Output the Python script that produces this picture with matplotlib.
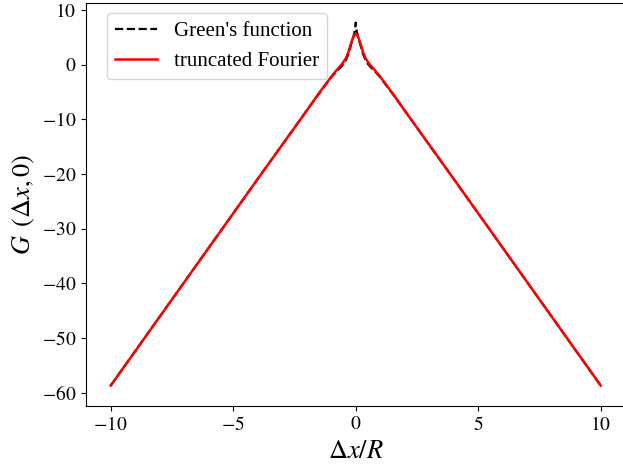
import numpy as np
import matplotlib.pyplot as plt

plt.rcParams['font.family'] = ['Liberation Serif', 'DejaVu Serif']
plt.rcParams['mathtext.fontset'] = 'stix'

# Green's function sampled along y = 0
x_green = [-10, -8, -6, -4, -2, -1.5, -1.0, -0.8, -0.6, -0.45, -0.3, -0.2, -0.1, -0.05, -0.02, 0,
           0.02, 0.05, 0.1, 0.2, 0.3, 0.45, 0.6, 0.8, 1.0, 1.5, 2, 4, 6, 8, 10]
g_green = [-58.7, -46.1, -33.5, -20.9, -8.4, -5.3, -2.3, -1.3, -0.4, 0.4, 1.9, 3.5, 5.0, 5.9, 6.6, 7.7,
           6.6, 5.9, 5.0, 3.5, 1.9, 0.4, -0.4, -1.3, -2.3, -5.3, -8.4, -20.9, -33.5, -46.1, -58.7]

# truncated Fourier series approximation
x_four = [-10, -8, -6, -4, -2, -1.5, -1.0, -0.8, -0.6, -0.5, -0.4, -0.3, -0.2, -0.1, 0,
          0.1, 0.2, 0.3, 0.4, 0.5, 0.6, 0.8, 1.0, 1.5, 2, 4, 6, 8, 10]
g_four = [-58.7, -46.1, -33.5, -20.9, -8.4, -5.2, -2.2, -1.1, -0.1, 0.5, 1.2, 2.3, 3.8, 5.1, 5.7,
          5.1, 3.8, 2.3, 1.2, 0.5, -0.1, -1.1, -2.2, -5.2, -8.4, -20.9, -33.5, -46.1, -58.7]

x_ticks = [-10, -5, 0, 5, 10]
y_ticks = [10, 0, -10, -20, -30, -40, -50, -60]

fig = plt.figure(figsize=(6.23, 4.68), dpi=100)
ax = fig.add_axes([0.1376, 0.1325, 0.866, 0.861])

ax.plot(x_green, g_green, 'k--', lw=1.6, label="Green's function")
ax.plot(x_four, g_four, color='red', lw=1.8, label='truncated Fourier')

ax.set_xlim(-11.02, 11.0)
ax.set_ylim(-62.44, 11.28)
ax.set_xticks(x_ticks)
ax.set_xticklabels([f'${t}$' for t in x_ticks])
ax.set_yticks(y_ticks)
ax.set_yticklabels([f'${t}$' for t in y_ticks])
ax.tick_params(labelsize=14)
ax.set_xlabel(r'$\Delta x/R$', fontsize=19, labelpad=5)
ax.set_ylabel(r'$G\ \,(\Delta x, 0)$', fontsize=19, labelpad=3)
ax.legend(loc='upper left', bbox_to_anchor=(0.0395, 0.975), borderaxespad=0, fontsize=15)

fig.savefig('out.png', dpi=100)
